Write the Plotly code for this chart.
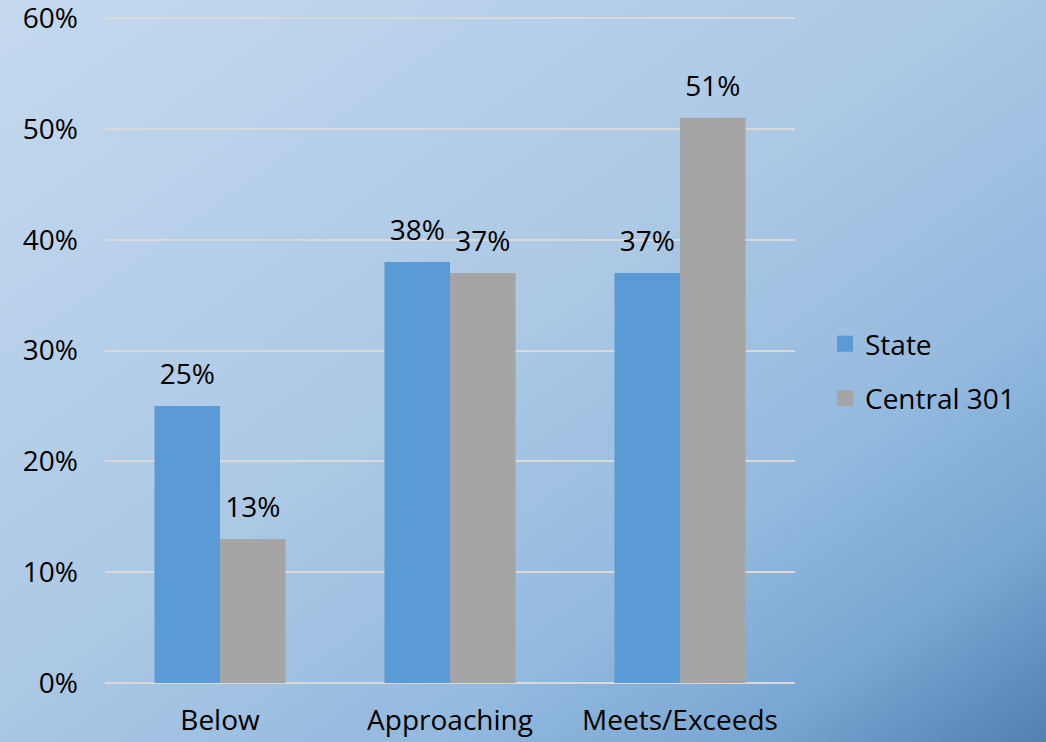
import base64
import plotly.graph_objects as go

categories = ["Below", "Approaching", "Meets/Exceeds"]
state = [0.25, 0.38, 0.37]
central_301 = [0.13, 0.37, 0.51]
y_ticks = [0, 0.1, 0.2, 0.3, 0.4, 0.5, 0.6]
y_tick_labels = ["0%", "10%", "20%", "30%", "40%", "50%", "60%"]

W, H = 1046, 742
L, R, T, B = 105, 251, 17, 59
pw, ph = W - L - R, H - T - B

FONT = "Open Sans, Liberation Sans, sans-serif"
FS = 28
GAP = 0.43

# diagonal background wash for the whole canvas
svg = (
    '<svg xmlns="http://www.w3.org/2000/svg" width="1046" height="742" '
    'preserveAspectRatio="none" viewBox="0 0 1046 742">'
    '<defs><linearGradient id="g" x1="0" y1="0" x2="1" y2="1">'
    '<stop offset="0" stop-color="#c4d9ee"/>'
    '<stop offset="0.45" stop-color="#adc9e5"/>'
    '<stop offset="0.7" stop-color="#94badf"/>'
    '<stop offset="0.86" stop-color="#78a6d2"/>'
    '<stop offset="1" stop-color="#5280b0"/>'
    '</linearGradient></defs>'
    '<rect width="1046" height="742" fill="url(#g)"/></svg>'
)
bg_uri = "data:image/svg+xml;base64," + base64.b64encode(svg.encode()).decode()

fig = go.Figure()
series = [("State", state, "#5b9bd5"), ("Central 301", central_301, "#a5a5a5")]
for i, (name, vals, color) in enumerate(series):
    fig.add_trace(go.Bar(
        name=name, x=categories, y=vals, legendgroup=name,
        offsetgroup=str(i), showlegend=False,
        marker=dict(color=color, line=dict(width=0)),
        hoverinfo="skip",
    ))
# value labels, grouped like the bars and lifted by an invisible marker
for i, (name, vals, color) in enumerate(series):
    fig.add_trace(go.Scatter(
        x=categories, y=vals, mode="markers+text", offsetgroup=str(i),
        text=[f"{v:.0%}" for v in vals], textposition="top center",
        textfont=dict(size=FS, color="#000000", family=FONT),
        marker=dict(size=22, opacity=0), showlegend=False,
        cliponaxis=False, hoverinfo="skip",
    ))
# legend entries with larger square swatches
for name, vals, color in series:
    fig.add_trace(go.Scatter(
        x=[None], y=[None], mode="markers", name=name, legendgroup=name,
        marker=dict(symbol="square", size=16, color=color),
        hoverinfo="skip",
    ))

fig.update_layout(
    width=W, height=H,
    margin=dict(l=L, r=R, t=T, b=B),
    paper_bgcolor="rgba(0,0,0,0)",
    plot_bgcolor="rgba(0,0,0,0)",
    barmode="group", bargap=GAP, bargroupgap=0,
    scattermode="group", scattergap=GAP,
    font=dict(family=FONT, size=FS, color="#000000"),
    showlegend=True,
    legend=dict(
        x=(825 - L) / pw, xanchor="left",
        y=(H - B - 371) / ph, yanchor="middle",
        bgcolor="rgba(0,0,0,0)", font=dict(size=FS, family=FONT),
        tracegroupgap=15,
    ),
    images=[dict(
        source=bg_uri, xref="paper", yref="paper",
        x=-L / pw, y=1 + T / ph, sizex=W / pw, sizey=H / ph,
        xanchor="left", yanchor="top", sizing="stretch", layer="below",
    )],
)
fig.update_xaxes(
    showgrid=False, showline=False, zeroline=False, ticks="",
    automargin=False, ticklabelstandoff=18,
    tickfont=dict(size=FS, family=FONT),
)
fig.update_yaxes(
    range=[0, 0.601], tickvals=y_ticks, ticktext=y_tick_labels,
    showgrid=True, gridcolor="#d9d9d9", gridwidth=2,
    zeroline=True, zerolinecolor="#d9d9d9", zerolinewidth=2,
    showline=False, ticks="", ticklabelstandoff=26, automargin=False,
    ticklabeloverflow="allow",
    tickfont=dict(size=FS, family=FONT),
)

fig.write_html("out.html")
